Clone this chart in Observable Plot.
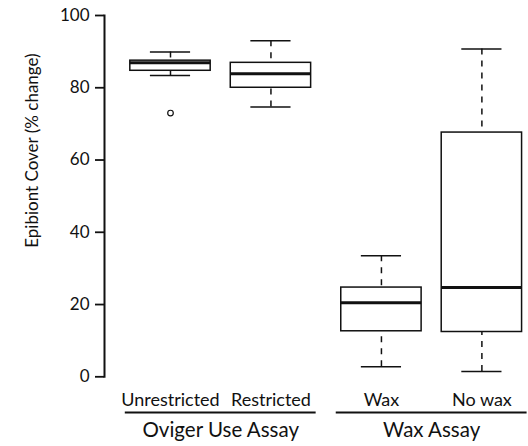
<!DOCTYPE html>
<html><head><meta charset="utf-8">
<script src="https://cdn.jsdelivr.net/npm/d3@7"></script>
<script src="https://cdn.jsdelivr.net/npm/@observablehq/plot@0.6"></script>
<style>
html,body{margin:0;padding:0;background:#fff;}
#chart svg{display:block;}
</style>
</head><body><div id="chart"></div>
<script>
// ---- data ----
const categories = ["Unrestricted", "Restricted", "Wax", "No wax"];
const groups = ["Oviger Use Assay", "Oviger Use Assay", "Wax Assay", "Wax Assay"];
const whiskerLow = [83.4, 74.7, 2.8, 1.5];
const q1 = [84.7, 80.0, 12.6, 12.4];
const median = [86.9, 83.9, 20.5, 24.7];
const q3 = [87.5, 86.9, 24.7, 67.6];
const whiskerHigh = [89.9, 93.0, 33.5, 90.7];
const outlierCategory = ["Unrestricted"];
const outlierValue = [73.0];
const yTicks = [0, 20, 40, 60, 80, 100];
const yLabel = "Epibiont Cover (% change)";

// ---- layout helpers ----
const groupNames = [...new Set(groups)];
const GROUP_GAP = 0.1, BOX_HALF = 0.4, CAP_HALF = 0.2, SPAN_PAD = 0.45;
const slot = categories.map((c, i) => i + 1 + groupNames.indexOf(groups[i]) * GROUP_GAP);
const boxes = categories.map((c, i) => ({
  category: c, group: groups[i], pos: slot[i],
  lo: whiskerLow[i], q1: q1[i], med: median[i], q3: q3[i], hi: whiskerHigh[i]
}));
const outliers = outlierCategory.map((c, i) => ({pos: slot[categories.indexOf(c)], value: outlierValue[i]}));
const groupSpans = groupNames.map(g => {
  const p = boxes.filter(b => b.group === g).map(b => b.pos);
  return {group: g, x1: d3.min(p) - SPAN_PAD, x2: d3.max(p) + SPAN_PAD, mid: d3.mean(p)};
});
const bx1 = d => d.pos - BOX_HALF, bx2 = d => d.pos + BOX_HALF;
const cx1 = d => d.pos - CAP_HALF, cx2 = d => d.pos + CAP_HALF;
const ink = "#111";

const chart = Plot.plot({
  width: 528,
  height: 446,
  marginLeft: 104,
  marginRight: 0,
  marginTop: 15,
  marginBottom: 69.7,
  style: {fontFamily: "Lato, 'Open Sans', sans-serif", color: ink, background: "#fff"},
  x: {domain: [0.343, 4.564], axis: null},
  y: {domain: [0, 100], axis: null},
  marks: [
    Plot.frame({anchor: "left", stroke: ink, strokeWidth: 2}),
    Plot.axisY({ticks: yTicks, tickSize: 9, tickPadding: 6, fontSize: 17, strokeWidth: 1.8, label: null}),
    // whiskers
    Plot.ruleX(boxes, {x: "pos", y1: "hi", y2: "q3", stroke: ink, strokeWidth: 1.5, strokeDasharray: "6,6"}),
    Plot.ruleX(boxes, {x: "pos", y1: "lo", y2: "q1", stroke: ink, strokeWidth: 1.5, strokeDasharray: "6,6"}),
    Plot.ruleY(boxes, {y: "hi", x1: cx1, x2: cx2, stroke: ink, strokeWidth: 1.5}),
    Plot.ruleY(boxes, {y: "lo", x1: cx1, x2: cx2, stroke: ink, strokeWidth: 1.5}),
    // boxes
    Plot.rect(boxes, {x1: bx1, x2: bx2, y1: "q1", y2: "q3", fill: "white", stroke: ink, strokeWidth: 1.5}),
    Plot.ruleY(boxes, {y: "med", x1: bx1, x2: bx2, stroke: ink, strokeWidth: 3}),
    // outliers
    Plot.dot(outliers, {x: "pos", y: "value", r: 2.8, stroke: ink, strokeWidth: 1.2, fill: "none"}),
    // category labels
    Plot.text(boxes, {x: "pos", text: "category", frameAnchor: "bottom", lineAnchor: "bottom", dy: 29.4, fontSize: 18, fill: ink}),
    // group underline + labels
    Plot.ruleY(groupSpans, {x1: "x1", x2: "x2", y: () => yTicks[0], dy: 35.7, stroke: ink, strokeWidth: 2}),
    Plot.text(groupSpans, {x: "mid", text: "group", frameAnchor: "bottom", lineAnchor: "bottom", dy: 60.2, fontSize: 20.5, fill: ink}),
    // y label
    Plot.text([yLabel], {text: d => d, frameAnchor: "left", textAnchor: "middle", rotate: -90, dx: -72, dy: -45.6, fontSize: 17, fill: ink})
  ]
});
document.getElementById("chart").appendChild(chart);
</script>
</body></html>
